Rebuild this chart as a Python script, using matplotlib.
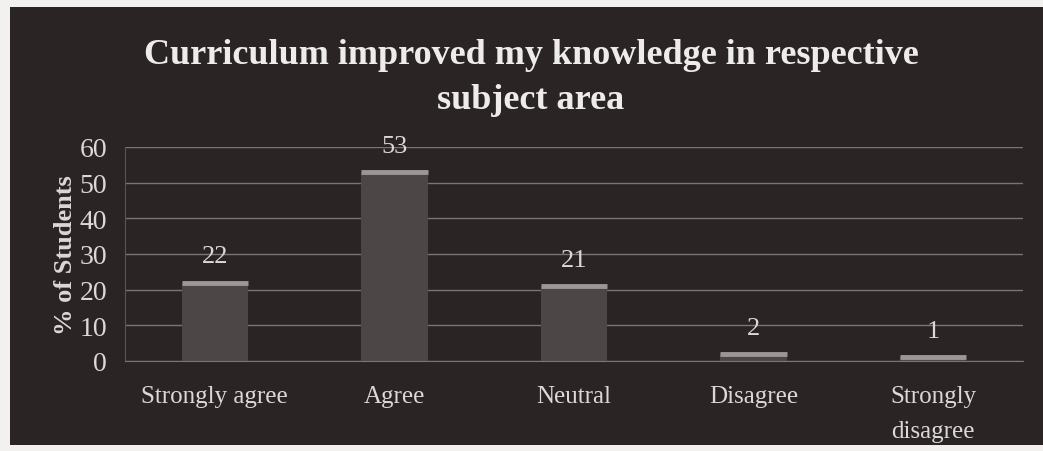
import matplotlib
matplotlib.use("Agg")
from matplotlib import pyplot as plt
from matplotlib.patches import Rectangle

# data
categories = ["Strongly agree", "Agree", "Neutral", "Disagree", "Strongly\ndisagree"]
percent_students = [22, 53, 21, 2, 1]
y_ticks = [0, 10, 20, 30, 40, 50, 60]

title_text = "Curriculum improved my knowledge in respective\nsubject area"
y_label = "% of Students"

BG = "#2a2524"
TEXT = "#dcd8d6"
GRID = "#7a7473"

plt.rcParams["font.family"] = ["Liberation Serif", "DejaVu Serif"]

fig = plt.figure(figsize=(10.43, 4.52), dpi=100)
fig.patch.set_facecolor("#f2f1ef")
fig.patches.append(
    Rectangle((10 / 1043, 6 / 452), 1 - 10 / 1043, 1 - 14 / 452,
              transform=fig.transFigure, facecolor=BG, edgecolor="none", zorder=-10)
)

ax = fig.add_axes([125 / 1043, 90 / 452, 898 / 1043, 214 / 452])
ax.set_facecolor(BG)

x = list(range(len(categories)))
bars = ax.bar(x, percent_students, width=0.37, color="#4d4646", edgecolor="none", zorder=2)
# light rim along the top of each bar, as in the original
for rect in bars:
    ax.plot([rect.get_x(), rect.get_x() + rect.get_width()],
            [rect.get_height(), rect.get_height()],
            color="#9c9695", lw=3.5, solid_capstyle="butt", zorder=3)

for xi, v in zip(x, percent_students):
    ax.annotate(str(v), (xi, v), xytext=(0, 11), textcoords="offset points",
                ha="center", va="bottom", color=TEXT, fontsize=19)

ax.set_xlim(-0.5, len(categories) - 0.5)
ax.set_ylim(0, 60)
ax.set_yticks(y_ticks)
ax.yaxis.grid(True, color=GRID, lw=1)
ax.set_axisbelow(True)
for side in ["top", "right"]:
    ax.spines[side].set_visible(False)
ax.spines["left"].set_color("#5a5453")
ax.spines["bottom"].set_color(GRID)

ax.set_xticks(x)
ax.set_xticklabels(categories, color=TEXT, fontsize=18, linespacing=1.8)
ax.tick_params(axis="x", length=0, pad=17)
ax.tick_params(axis="y", length=0, pad=13, labelcolor=TEXT, labelsize=20)

ax.set_ylabel(y_label, color=TEXT, fontsize=19, fontweight="bold", labelpad=2)

fig.text(0.509, 0.827, title_text, ha="center", va="center", color="#eeecea",
         fontsize=26, fontweight="bold", linespacing=1.48)

fig.savefig("out.png", dpi=100, facecolor=fig.get_facecolor())
